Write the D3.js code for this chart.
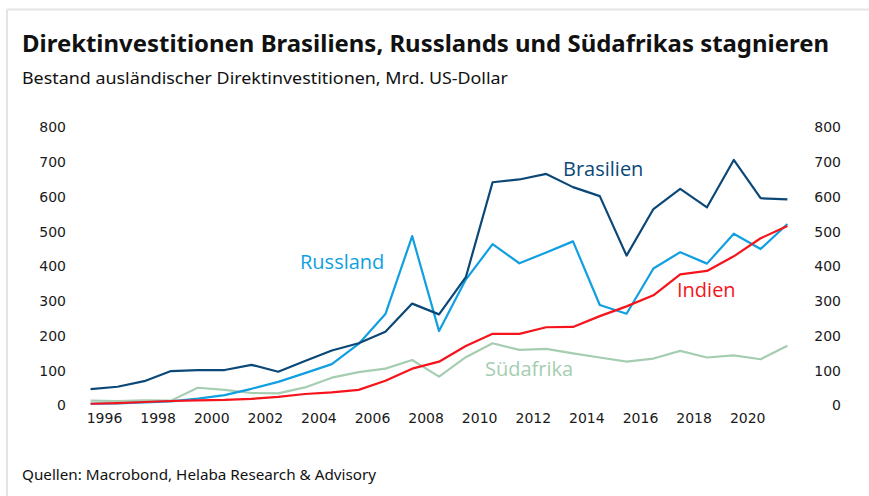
<!DOCTYPE html>
<html>
<head>
<meta charset="utf-8">
<script src="https://cdn.jsdelivr.net/npm/d3@7"></script>
<style>
  body { margin: 0; background: #fff; }
  .axis text { font-family: "DejaVu Sans", sans-serif; font-size: 14px; fill: #1a1a1a; }
  .axis .domain, .axis line { display: none; }
  .title { font-family: "Noto Sans", sans-serif; font-weight: bold; font-size: 23px; fill: #111; }
  .subtitle { font-family: "Noto Sans", sans-serif; font-size: 16px; fill: #111; }
  .source { font-family: "Noto Sans", sans-serif; font-size: 15px; fill: #111; }
  .label { font-family: "Open Sans", sans-serif; font-size: 20px; }
</style>
</head>
<body>
<div id="chart"></div>
<script>
// data: stock of inward FDI, bn US$, 1995-2021
const years = d3.range(1995, 2022);
const brasilien = [47, 54, 70, 99, 102, 102, 117, 97, 128, 158, 179, 212, 293, 262, 369, 642,
  650, 666, 628, 602, 431, 565, 623, 570, 706, 596, 593];
const russland = [5, 6, 9, 12, 20, 30, 48, 68, 93, 119, 177, 263, 487, 214, 362, 464,
  409, 440, 472, 289, 264, 394, 441, 408, 494, 450, 522];
const indien = [5, 7, 10, 13, 15, 16, 19, 25, 33, 38, 45, 71, 106, 126, 171, 206,
  206, 225, 226, 257, 285, 317, 377, 387, 429, 481, 516];
const suedafrika = [14, 13, 15, 14, 51, 45, 36, 35, 52, 80, 96, 106, 131, 83, 139, 179,
  160, 163, 150, 138, 126, 135, 157, 138, 144, 133, 172];
const yTicks = [0, 100, 200, 300, 400, 500, 600, 700, 800];
const xTickYears = d3.range(1996, 2021, 2);

const series = [
  {name: "Südafrika", values: suedafrika, color: "#a5cdb1", lx: 485, ly: 376},
  {name: "Russland", values: russland, color: "#109fe0", lx: 300, ly: 269},
  {name: "Brasilien", values: brasilien, color: "#0b4877", lx: 563, ly: 176},
  {name: "Indien", values: indien, color: "#f5141b", lx: 677, ly: 297}
];

const W = 869, H = 496;
const svg = d3.select("#chart").append("svg")
  .attr("width", W)
  .attr("height", H);

// card border (top + left)
svg.append("line").attr("x1", 7).attr("x2", W).attr("y1", 9.5).attr("y2", 9.5)
  .attr("stroke", "#e4e4e4").attr("stroke-width", 2);
svg.append("line").attr("x1", 7).attr("x2", 7).attr("y1", 9.5).attr("y2", H)
  .attr("stroke", "#e4e4e4").attr("stroke-width", 2);

// points sit at year end, labels in the middle of the year
const x = d3.scaleTime()
  .domain([new Date(1995, 11, 31), new Date(2021, 11, 31)])
  .range([90.6, 787.4]);
const y = d3.scaleLinear()
  .domain([0, 800])
  .range([405.5, 127.3]);

svg.append("g")
  .attr("class", "axis")
  .attr("transform", "translate(66,0)")
  .call(d3.axisLeft(y).tickValues(yTicks).tickSize(0).tickPadding(0));

svg.append("g")
  .attr("class", "axis")
  .attr("transform", "translate(841,0)")
  .call(d3.axisLeft(y).tickValues(yTicks).tickSize(0).tickPadding(0));

svg.append("g")
  .attr("class", "axis")
  .attr("transform", "translate(0,413)")
  .call(d3.axisBottom(x)
    .tickValues(xTickYears.map((yr) => new Date(yr, 6, 1)))
    .tickFormat(d3.timeFormat("%Y"))
    .tickSize(0).tickPadding(0));

const line = d3.line()
  .x((d, i) => x(new Date(years[i], 11, 31)))
  .y((d) => y(d));

svg.selectAll(".series")
  .data(series)
  .enter().append("path")
  .attr("class", "series")
  .attr("fill", "none")
  .attr("stroke", (d) => d.color)
  .attr("stroke-width", 2.2)
  .attr("stroke-linejoin", "round")
  .attr("d", (d) => line(d.values));

svg.selectAll(".label")
  .data(series)
  .enter().append("text")
  .attr("class", "label")
  .attr("x", (d) => d.lx)
  .attr("y", (d) => d.ly)
  .attr("fill", (d) => d.color)
  .text((d) => d.name);

svg.append("text")
  .attr("class", "title")
  .attr("x", 22)
  .attr("y", 52)
  .attr("textLength", 807)
  .attr("lengthAdjust", "spacingAndGlyphs")
  .text("Direktinvestitionen Brasiliens, Russlands und Südafrikas stagnieren");

svg.append("text")
  .attr("class", "subtitle")
  .attr("x", 22)
  .attr("y", 84)
  .attr("textLength", 486)
  .attr("lengthAdjust", "spacingAndGlyphs")
  .text("Bestand ausländischer Direktinvestitionen, Mrd. US-Dollar");

svg.append("text")
  .attr("class", "source")
  .attr("x", 22)
  .attr("y", 480)
  .attr("textLength", 354)
  .attr("lengthAdjust", "spacingAndGlyphs")
  .text("Quellen: Macrobond, Helaba Research & Advisory");
</script>
</body>
</html>
